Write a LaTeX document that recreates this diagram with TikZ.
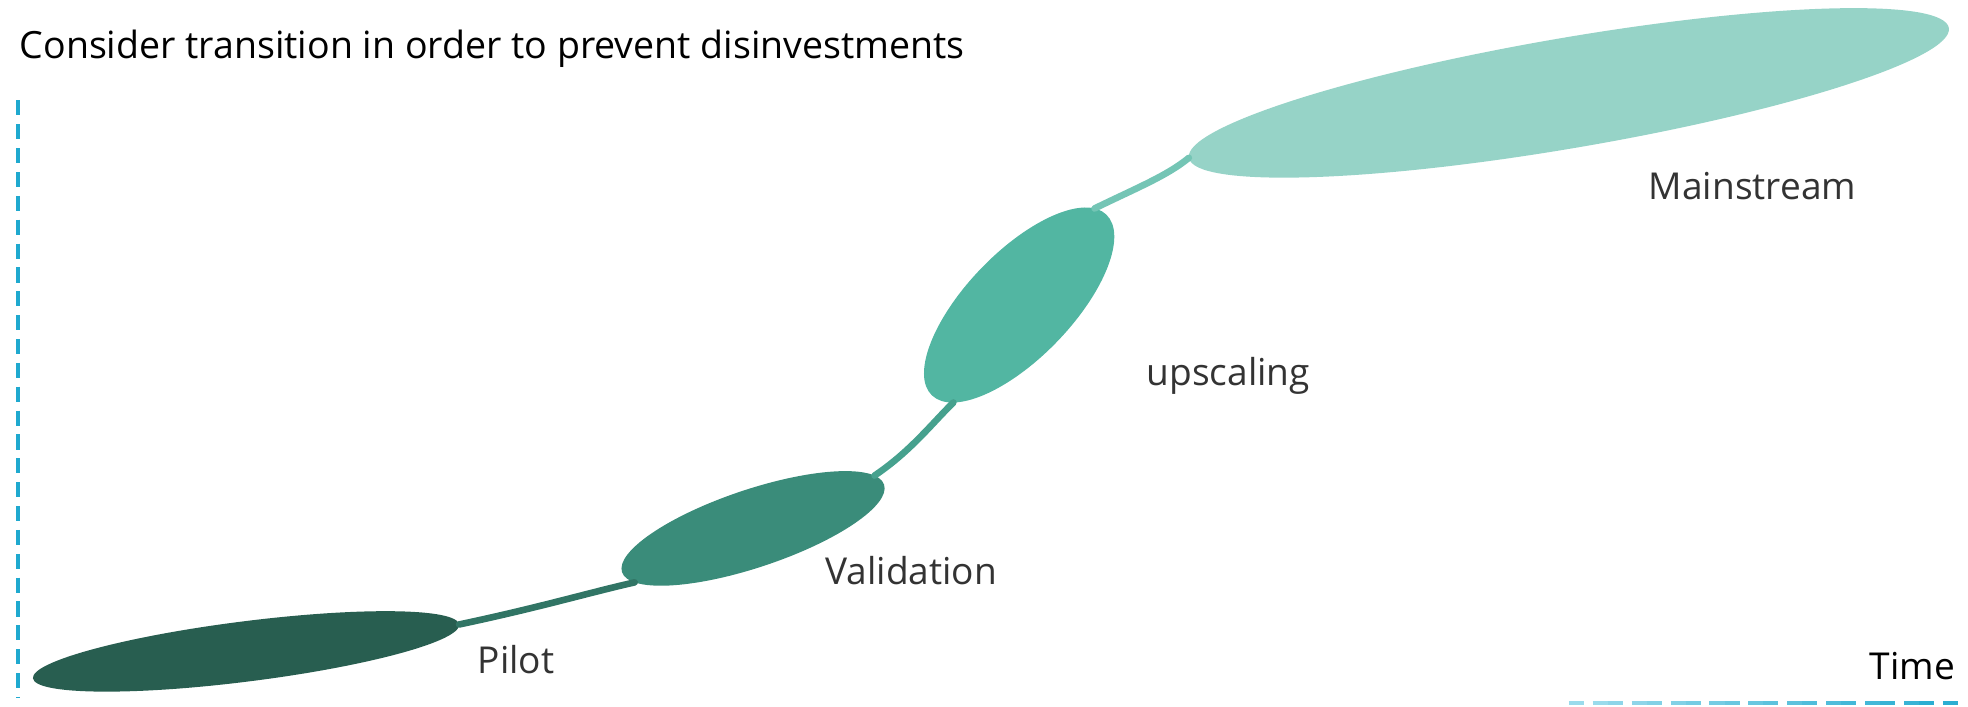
\documentclass[tikz,border=0pt]{standalone}
\usepackage{fontspec}
\setmainfont{Open Sans}
\usetikzlibrary{shapes.geometric}
\definecolor{cpilot}{HTML}{285E50}
\definecolor{cvalid}{HTML}{3A8C7A}
\definecolor{cup}{HTML}{52B6A2}
\definecolor{cmain}{HTML}{96D3C7}
\definecolor{cdash}{HTML}{1FA9CF}
\definecolor{cdashlight}{HTML}{A8E0EF}
\begin{document}
\begin{tikzpicture}[x=0.01cm,y=-0.01cm,
  leaf/.style={ellipse,draw=none,inner sep=0pt,outer sep=0pt},
  conn/.style={line width=1.5pt,line cap=round},
  lbl/.style={anchor=base west,inner sep=0pt,font=\fontsize{8.4}{10}\selectfont,text=black!80},
  axisline/.style={line width=0.9pt,dash pattern=on 0.12cm off 0.07cm}]
\useasboundingbox (0,0) rectangle (1568,563);
% title
\node[anchor=base west,inner sep=0pt,font=\fontsize{8.5}{10}\selectfont] (title) at (15,47) {Consider transition in order to prevent disinvestments};
% axes
\coordinate (ytop) at (14,80);
\coordinate (ybot) at (14,556);
\draw[axisline,cdash] (ytop) -- (ybot);
\foreach \i in {0,...,9}{
  \pgfmathsetmacro{\xa}{1250+31*\i}
  \pgfmathsetmacro{\xb}{1250+31*(\i+1)}
  \pgfmathsetmacro{\pc}{10+9*\i}
  \draw[axisline,cdash!\pc!cdashlight] (\xa,560) -- (\xb,560);
}
% stages
\node[leaf,fill=cpilot,minimum width=3.42cm,minimum height=0.48cm,rotate=7.2] (pilot) at (196,519) {};
\node[leaf,fill=cvalid,minimum width=2.2cm,minimum height=0.62cm,rotate=18.5] (valid) at (600,421) {};
\node[leaf,fill=cup,minimum width=2.0cm,minimum height=0.84cm,rotate=46] (up) at (812,243) {};
\node[leaf,fill=cmain,minimum width=6.14cm,minimum height=0.88cm,rotate=9.7] (main) at (1250,74) {};
% connectors
\draw[conn,cpilot!50!cvalid] (pilot.east) .. controls (430,484) and (470,472) .. (valid.186);
\draw[conn,cvalid!50!cup] (valid.5) .. controls (725,360) and (742,338) .. (up.190);
\draw[conn,cup!50!cmain] (up.6) .. controls (905,150) and (930,140) .. (main.west);
% labels
\node[lbl] (lpilot) at (380,537) {Pilot};
\node[lbl] (lvalid) at (657,466) {Validation};
\node[lbl] (lup) at (913,307) {upscaling};
\node[lbl] (lmain) at (1313,159) {Mainstream};
\node[lbl,text=black] (ltime) at (1489,541) {Time};
\end{tikzpicture}
\end{document}
